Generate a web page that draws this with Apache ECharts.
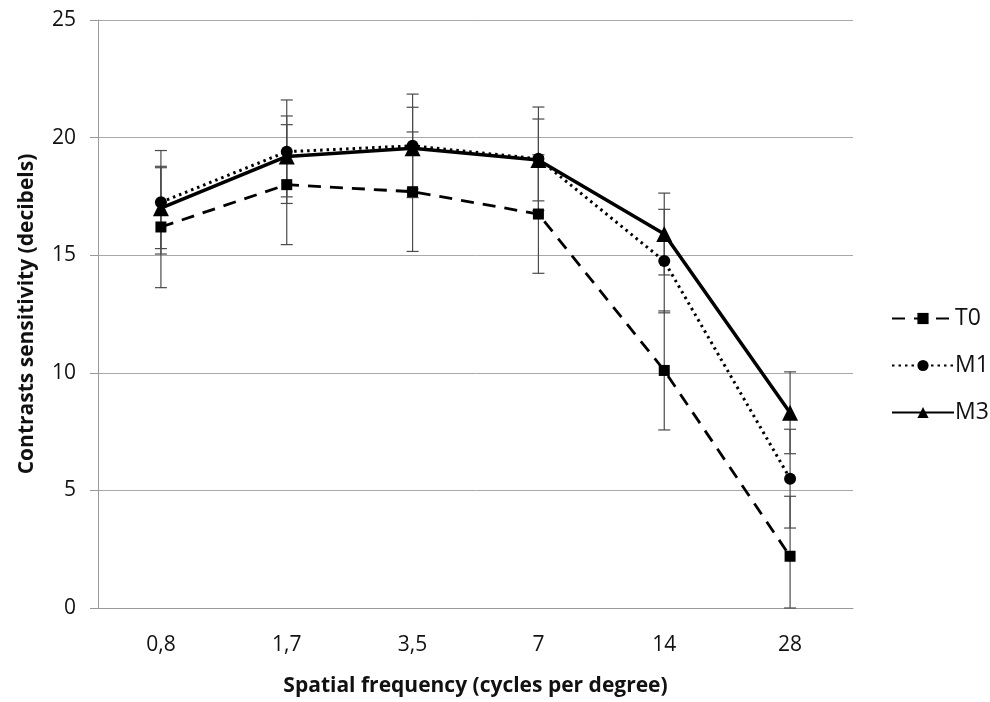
<!DOCTYPE html>
<html>
<head>
<meta charset="utf-8">
<script src="https://cdn.jsdelivr.net/npm/echarts@6/dist/echarts.min.js"></script>
<style>
  html, body { margin: 0; padding: 0; background: #fff; }
  #chart { width: 990px; height: 702px; }
</style>
</head>
<body>
<div id="chart"></div>
<script>
  // spatial frequencies (cycles per degree)
  var categories = ['0,8', '1,7', '3,5', '7', '14', '28'];
  var yTicks = [0, 5, 10, 15, 20, 25];

  // mean contrast sensitivity per visit
  var t0 = [16.2, 18.0, 17.7, 16.75, 10.1, 2.2];
  var m1 = [17.25, 19.4, 19.65, 19.1, 14.75, 5.5];
  var m3 = [17.0, 19.2, 19.55, 19.05, 15.9, 8.3];

  // error bar half widths (+/-)
  var t0Err = [2.58, 2.55, 2.54, 2.52, 2.53, 2.55];
  var m1Err = [2.2, 2.2, 2.2, 2.2, 2.2, 2.1];
  var m3Err = [1.72, 1.72, 1.74, 1.74, 1.74, 1.74];

  function errData(vals, errs) {
    return vals.map(function (v, i) {
      return [i, Math.max(0, v - errs[i]), v + errs[i]];
    });
  }

  function renderErr(params, api) {
    var x = api.value(0);
    var lo = api.coord([x, api.value(1)]);
    var hi = api.coord([x, api.value(2)]);
    var w = 6;
    var st = { stroke: '#4a4a4a', lineWidth: 1.2 };
    return {
      type: 'group',
      children: [
        { type: 'line', shape: { x1: lo[0], y1: lo[1], x2: hi[0], y2: hi[1] }, style: st },
        { type: 'line', shape: { x1: hi[0] - w, y1: hi[1], x2: hi[0] + w, y2: hi[1] }, style: st },
        { type: 'line', shape: { x1: lo[0] - w, y1: lo[1], x2: lo[0] + w, y2: lo[1] }, style: st }
      ]
    };
  }

  function errSeries(vals, errs) {
    return {
      type: 'custom',
      renderItem: renderErr,
      data: errData(vals, errs),
      encode: { x: 0, y: [1, 2] },
      z: 1,
      silent: true
    };
  }

  var font = "'Open Sans', 'Noto Sans', sans-serif";
  var myChart = echarts.init(document.getElementById('chart'));
  var option = {
    animation: false,
    backgroundColor: '#fff',
    grid: { left: 98, right: 137, top: 20, bottom: 91 },
    legend: {
      orient: 'vertical',
      left: 886,
      top: 302,
      itemWidth: 62,
      itemHeight: 14,
      itemGap: 24,
      textStyle: { fontFamily: font, fontSize: 23, color: '#111', padding: [0, 0, 0, -4] },
      data: ['T0', 'M1', 'M3']
    },
    xAxis: {
      type: 'category',
      data: categories,
      boundaryGap: true,
      axisLine: { lineStyle: { color: '#9a9a9a', width: 1 } },
      axisTick: { show: false },
      axisLabel: { fontFamily: font, fontSize: 21, color: '#111', margin: 27 },
      name: 'Spatial frequency (cycles per degree)',
      nameLocation: 'middle',
      nameGap: 68,
      nameTextStyle: { fontFamily: font, fontSize: 21, fontWeight: 'bold', color: '#111' }
    },
    yAxis: {
      type: 'value',
      min: yTicks[0],
      max: yTicks[yTicks.length - 1],
      interval: 5,
      axisLine: { show: true, lineStyle: { color: '#9a9a9a', width: 1 } },
      axisTick: { show: true, length: 8, lineStyle: { color: '#9a9a9a' } },
      splitLine: { lineStyle: { color: '#a8a8a8', width: 1 } },
      axisLabel: { fontFamily: font, fontSize: 21, color: '#111', margin: 22 },
      name: 'Contrasts sensitivity (decibels)',
      nameLocation: 'middle',
      nameGap: 60,
      nameTextStyle: { fontFamily: font, fontSize: 21, fontWeight: 'bold', color: '#111' }
    },
    series: [
      errSeries(t0, t0Err),
      errSeries(m1, m1Err),
      errSeries(m3, m3Err),
      {
        name: 'T0', type: 'line', data: t0, z: 3,
        symbol: 'rect', symbolSize: 11,
        itemStyle: { color: '#000' },
        lineStyle: { color: '#000', width: 2.8, type: [13, 9] }
      },
      {
        name: 'M1', type: 'line', data: m1, z: 4,
        symbol: 'circle', symbolSize: 12,
        itemStyle: { color: '#000' },
        lineStyle: { color: '#000', width: 3, type: [2.5, 4] }
      },
      {
        name: 'M3', type: 'line', data: m3, z: 5,
        symbol: 'triangle', symbolSize: 16,
        itemStyle: { color: '#000' },
        lineStyle: { color: '#000', width: 3.5 }
      }
    ]
  };
  myChart.setOption(option);
</script>
</body>
</html>
